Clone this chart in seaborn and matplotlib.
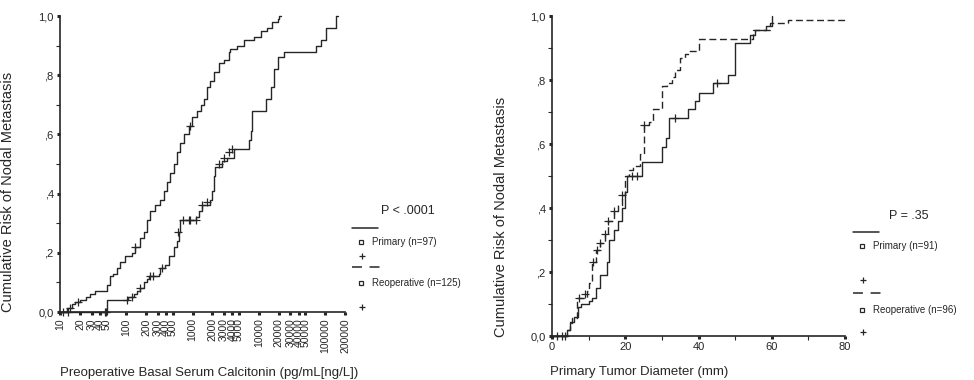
import numpy as np
import pandas as pd
import seaborn as sns
import matplotlib.pyplot as plt
from matplotlib.lines import Line2D
from matplotlib.ticker import FixedLocator, NullLocator, MultipleLocator

# ---- values ----
# left panel: cumulative risk vs preoperative calcitonin (log axis)
calc_primary_t = [10, 12.6, 15, 17, 20, 25, 28, 34, 51, 57, 64, 72, 81, 97, 122,
                  137, 163, 183, 205, 230, 275, 327, 367, 414, 464, 520, 585, 657,
                  737, 877, 985, 1170, 1320, 1470, 1660, 1860, 2090, 2490, 2960,
                  3530, 3740, 4730, 5970, 8460, 10700, 13500, 16100, 19200, 20500, 21500]
calc_primary_p = [0, 0.013, 0.027, 0.034, 0.04, 0.05, 0.06, 0.07, 0.09, 0.12, 0.13,
                  0.15, 0.17, 0.19, 0.20, 0.22, 0.25, 0.27, 0.31, 0.34, 0.36, 0.38,
                  0.41, 0.44, 0.47, 0.50, 0.54, 0.57, 0.60, 0.63, 0.66, 0.68, 0.70,
                  0.72, 0.76, 0.78, 0.81, 0.84, 0.85, 0.88, 0.89, 0.90, 0.92, 0.93,
                  0.95, 0.96, 0.98, 0.99, 1.0, 1.0]
calc_reop_t = [10, 51, 108, 129, 145, 163, 183, 205, 218, 308, 327, 389, 438, 520,
               585, 620, 657, 1110, 1250, 1400, 1860, 1980, 2090, 2220, 2800, 3330,
               4200, 7090, 7500, 7950, 12800, 15200, 17000, 19200, 24200, 73000,
               87000, 103500, 147000, 155000]
calc_reop_p = [0, 0.04, 0.05, 0.06, 0.07, 0.08, 0.10, 0.11, 0.12, 0.13, 0.15, 0.16,
               0.19, 0.22, 0.24, 0.27, 0.31, 0.32, 0.34, 0.36, 0.38, 0.41, 0.46, 0.49,
               0.51, 0.52, 0.55, 0.58, 0.61, 0.68, 0.72, 0.76, 0.82, 0.86, 0.88, 0.90,
               0.92, 0.96, 1.0, 1.0]
calc_primary_cens_t = [14, 18.5, 137, 930]
calc_primary_cens_p = [0.013, 0.034, 0.22, 0.63]
calc_reop_cens_t = [11, 13, 47, 50, 102, 122, 163, 231, 257, 344, 612, 730, 870,
                    930, 1110, 1400, 1670, 2470, 2950, 3500, 4000]
calc_reop_cens_p = [0, 0, 0, 0, 0.04, 0.05, 0.08, 0.12, 0.12, 0.15, 0.27, 0.31,
                    0.31, 0.31, 0.31, 0.36, 0.37, 0.50, 0.52, 0.54, 0.55]
calc_ticks = [10, 20, 30, 40, 50, 100, 200, 300, 400, 500, 1000, 2000, 3000, 4000,
              5000, 10000, 20000, 30000, 40000, 50000, 100000, 200000]

# right panel: cumulative risk vs primary tumor diameter
diam_primary_t = [0, 4, 5, 6, 7, 8, 10, 11, 12, 13, 15, 15.5, 17, 18, 19, 20, 20.5,
                  24.5, 30, 31, 32, 37, 39, 40, 44, 48, 50, 54, 55.5, 58.5, 60]
diam_primary_p = [0, 0.02, 0.045, 0.06, 0.09, 0.10, 0.11, 0.12, 0.15, 0.19, 0.23,
                  0.30, 0.33, 0.36, 0.40, 0.45, 0.50, 0.545, 0.59, 0.62, 0.68, 0.71,
                  0.735, 0.76, 0.79, 0.815, 0.915, 0.94, 0.955, 0.97, 1.0]
diam_reop_t = [0, 4, 5, 5.5, 6.8, 9.5, 10, 11, 12, 13, 14.5, 15.4, 16.8, 18, 19, 20,
               21, 22, 24, 25, 26.4, 27.7, 30, 31.4, 32.7, 33.6, 35, 36.4, 37.3, 40,
               55, 59.6, 64.5, 80]
diam_reop_p = [0, 0.02, 0.04, 0.055, 0.12, 0.14, 0.165, 0.23, 0.27, 0.29, 0.32, 0.36,
               0.39, 0.41, 0.44, 0.50, 0.52, 0.53, 0.57, 0.66, 0.67, 0.71, 0.78, 0.79,
               0.81, 0.83, 0.87, 0.88, 0.89, 0.927, 0.955, 0.977, 0.9875, 0.9875]
diam_primary_cens_t = [1.5, 2.7, 21.8, 23.2, 33.5, 45]
diam_primary_cens_p = [0, 0, 0.50, 0.50, 0.68, 0.79]
diam_reop_cens_t = [3.6, 7.3, 9.1, 11.3, 12.3, 13.2, 14.5, 15.4, 16.8, 19.1, 25.2]
diam_reop_cens_p = [0, 0.12, 0.13, 0.23, 0.27, 0.29, 0.32, 0.36, 0.39, 0.44, 0.66]

y_ticks = [0, 0.2, 0.4, 0.6, 0.8, 1.0]
y_ticklabels = ["0,0", ",2", ",4", ",6", ",8", "1,0"]

# ---- style ----
sns.set_theme(style="ticks")
plt.rcParams['font.family'] = ['Liberation Sans', 'DejaVu Sans']
ink = '#262626'


def curves(t1, p1, t2, p2):
    return pd.concat([
        pd.DataFrame({'t': t1, 'p': p1, 'group': 'Primary'}),
        pd.DataFrame({'t': t2, 'p': p2, 'group': 'Reoperative'}),
    ], ignore_index=True)


def cens(t1, p1, t2, p2):
    return pd.concat([
        pd.DataFrame({'t': t1, 'p': p1}),
        pd.DataFrame({'t': t2, 'p': p2}),
    ], ignore_index=True)


def style_axis(ax):
    sns.despine(ax=ax)
    for s in ['left', 'bottom']:
        ax.spines[s].set_color(ink)
        ax.spines[s].set_linewidth(1.2)
    ax.set_ylim(0, 1.0)
    ax.yaxis.set_major_locator(FixedLocator(y_ticks))
    ax.set_yticklabels(y_ticklabels)
    ax.yaxis.set_minor_locator(MultipleLocator(0.1))
    ax.tick_params(axis='both', which='major', length=2.5, width=2.2, color=ink,
                   labelsize=8, labelcolor=ink, pad=2)
    ax.tick_params(axis='both', which='minor', length=3, width=0.8, color=ink)
    ax.set_ylabel("Cumulative Risk of Nodal Metastasis", fontsize=10.5, color=ink)


W, H = 974, 380
fig = plt.figure(figsize=(W / 100, H / 100), dpi=100)

# left panel
ax1 = fig.add_axes([60 / W, 1 - 312 / H, 285 / W, 296 / H])
ax1.set_xscale('log')
sns.lineplot(data=curves(calc_primary_t, calc_primary_p, calc_reop_t, calc_reop_p),
             x='t', y='p', style='group', dashes={'Primary': '', 'Reoperative': ''},
             color=ink, linewidth=1.0, drawstyle='steps-post', estimator=None,
             legend=False, ax=ax1, clip_on=False)
cc = cens(calc_primary_cens_t, calc_primary_cens_p, calc_reop_cens_t, calc_reop_cens_p)
ax1.scatter(cc['t'], cc['p'], marker='+', s=28, color=ink, linewidths=0.9,
            clip_on=False, zorder=3)
ax1.set_xlim(10, 200000)
style_axis(ax1)
ax1.xaxis.set_major_locator(FixedLocator(calc_ticks))
ax1.xaxis.set_minor_locator(NullLocator())
ax1.set_xticklabels([str(v) for v in calc_ticks], rotation=90)
ax1.tick_params(axis='x', labelsize=7.5)
ax1.set_xlabel("Preoperative Basal Serum Calcitonin (pg/mL[ng/L])", fontsize=9.5,
               color=ink, loc='left', va='center')
ax1.xaxis.set_label_coords(0, (312 - 373) / 296)
ax1.yaxis.set_label_coords((15 - 60) / 285, (312 - 192) / 296)

# right panel
ax2 = fig.add_axes([552 / W, 1 - 336 / H, 293 / W, 320 / H])
sns.lineplot(data=curves(diam_primary_t, diam_primary_p, diam_reop_t, diam_reop_p),
             x='t', y='p', style='group', dashes={'Primary': '', 'Reoperative': (5, 2.6)},
             color=ink, linewidth=1.0, drawstyle='steps-post', estimator=None,
             legend=False, ax=ax2, clip_on=False)
cd = cens(diam_primary_cens_t, diam_primary_cens_p, diam_reop_cens_t, diam_reop_cens_p)
ax2.scatter(cd['t'], cd['p'], marker='+', s=28, color=ink, linewidths=0.9,
            clip_on=False, zorder=3)
ax2.set_xlim(0, 80)
style_axis(ax2)
ax2.xaxis.set_major_locator(MultipleLocator(20))
ax2.xaxis.set_minor_locator(MultipleLocator(10))
ax2.set_xlabel("Primary Tumor Diameter (mm)", fontsize=9.5, color=ink, loc='left',
               va='center')
ax2.xaxis.set_label_coords(-0.007, (336 - 372) / 320)
ax2.yaxis.set_label_coords((508 - 552) / 293, (336 - 217) / 320)


# ---- hand-drawn legends like the original ----
def fx(px):
    return px / W


def fy(py):
    return 1 - py / H


def legend_block(x0, ptxt, y_p, y_line, y_prim, y_plus1, y_dash, y_reop, y_plus2,
                 lab1, lab2):
    fig.text(fx(x0 + 56), fy(y_p), ptxt, fontsize=9, color=ink, ha='center', va='center')
    fig.add_artist(Line2D([fx(x0), fx(x0 + 26)], [fy(y_line)] * 2, color=ink, lw=1.1))
    fig.add_artist(Line2D([fx(x0 + 9)], [fy(y_prim)], marker='s', ms=3, mfc='none',
                          mec=ink, mew=0.9, lw=0))
    fig.text(fx(x0 + 20), fy(y_prim), lab1, fontsize=7, color=ink, va='center')
    fig.add_artist(Line2D([fx(x0 + 10)], [fy(y_plus1)], marker='+', ms=5, mec=ink,
                          mew=0.9, lw=0))
    fig.add_artist(Line2D([fx(x0), fx(x0 + 28)], [fy(y_dash)] * 2, color=ink, lw=1.1,
                          dashes=(6.5, 5)))
    fig.add_artist(Line2D([fx(x0 + 9)], [fy(y_reop)], marker='s', ms=3, mfc='none',
                          mec=ink, mew=0.9, lw=0))
    fig.text(fx(x0 + 20), fy(y_reop), lab2, fontsize=7, color=ink, va='center')
    fig.add_artist(Line2D([fx(x0 + 10)], [fy(y_plus2)], marker='+', ms=5, mec=ink,
                          mew=0.9, lw=0))


legend_block(352, "P < .0001", 211, 228, 242, 256, 267, 283, 307,
             "Primary (n=97)", "Reoperative (n=125)")
legend_block(853, "P = .35", 216, 232, 246, 280, 293, 310, 332,
             "Primary (n=91)", "Reoperative (n=96)")

fig.savefig("out.png", dpi=100, facecolor='white')
